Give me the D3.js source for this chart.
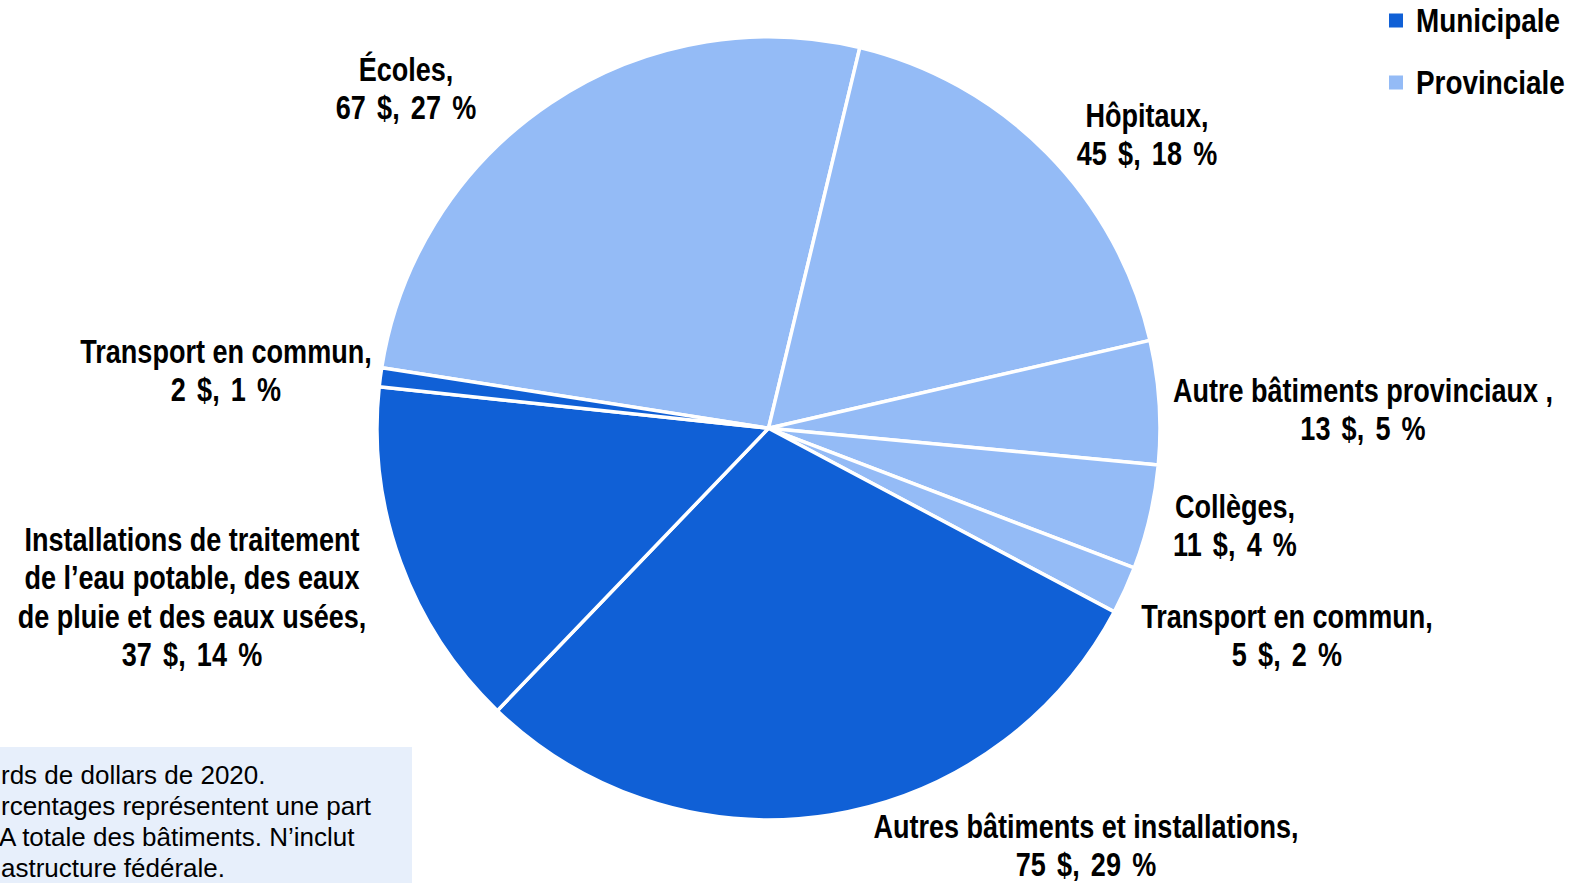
<!DOCTYPE html>
<html>
<head>
<meta charset="utf-8">
<script src="https://cdn.jsdelivr.net/npm/d3@7"></script>
<style>
  html, body { margin: 0; padding: 0; background: #fff; }
  svg { display: block; }
  .lbl { font-family: "Liberation Sans", Arial, sans-serif; font-weight: bold; font-size: 33px; fill: #000; }
  .leg { font-family: "Liberation Sans", Arial, sans-serif; font-weight: bold; font-size: 34px; fill: #000; }
  .note { font-family: "Liberation Sans", Arial, sans-serif; font-size: 26px; fill: #000; }
</style>
</head>
<body>
<svg id="chart" width="1575" height="883"></svg>
<script>
// ---- data ----
const categories = [
  "Écoles",
  "Hôpitaux",
  "Autre bâtiments provinciaux ",
  "Collèges",
  "Transport en commun",
  "Autres bâtiments et installations",
  "Installations de traitement de l’eau potable, des eaux de pluie et des eaux usées",
  "Transport en commun"
];
const values = [67, 45, 13, 11, 5, 75, 37, 2];
const percents = [27, 18, 5, 4, 2, 29, 14, 1];
const levels = ["Provinciale", "Provinciale", "Provinciale", "Provinciale", "Provinciale", "Municipale", "Municipale", "Municipale"];
const legendLabels = ["Municipale", "Provinciale"];
const nameLines = [
  ["Écoles,"],
  ["Hôpitaux,"],
  ["Autre bâtiments provinciaux ,"],
  ["Collèges,"],
  ["Transport en commun,"],
  ["Autres bâtiments et installations,"],
  ["Installations de traitement", "de l’eau potable, des eaux", "de pluie et des eaux usées,"],
  ["Transport en commun,"]
];
const noteLines = [
  "rds de dollars de 2020.",
  "rcentages représentent une part",
  "A totale des bâtiments. N’inclut",
  "astructure fédérale."
];

// ---- layout (positions/styles) ----
const cx = 768.5, cy = 428.3, R = 391.5;
const startDeg = -81.1;
const labelPos = [
  [406, 81], [1147, 127], [1363, 402], [1235, 518],
  [1287, 628], [1086, 838], [192, 551], [226, 363]
];
const lineH = 38.3;
const narrow = 0.82;

const svg = d3.select("#chart");
const color = d3.scaleOrdinal().domain(legendLabels).range(["#1060d6", "#94bbf6"]);

const data = categories.map((c, i) => ({
  cat: c, value: values[i], pct: percents[i], level: levels[i],
  lines: nameLines[i], pos: labelPos[i]
}));

const pie = d3.pie().sort(null).value(d => d.value)
  .startAngle(startDeg * Math.PI / 180)
  .endAngle(startDeg * Math.PI / 180 + 2 * Math.PI);
const arc = d3.arc().innerRadius(0).outerRadius(R);

const g = svg.append("g").attr("transform", `translate(${cx},${cy})`);
g.selectAll("path").data(pie(data)).join("path")
  .attr("d", arc)
  .attr("fill", d => color(d.data.level))
  .attr("stroke", "#fff")
  .attr("stroke-width", 3.5)
  .attr("stroke-linejoin", "round");

// labels
const lg = svg.append("g");
data.forEach(d => {
  const t = lg.append("text").attr("class", "lbl").attr("text-anchor", "middle")
    .attr("transform", `translate(${d.pos[0]},0) scale(${narrow},1)`);
  d.lines.forEach((ln, k) => {
    t.append("tspan").attr("x", 0).attr("y", d.pos[1] + k * lineH).text(ln);
  });
  t.append("tspan").attr("x", 0).attr("y", d.pos[1] + d.lines.length * lineH)
    .attr("word-spacing", 4.5)
    .text(`${d.value} $, ${d.pct} %`);
});

// legend
const leg = svg.append("g");
legendLabels.forEach((name, i) => {
  const y = 20.5 + i * 62;
  leg.append("rect").attr("x", 1389).attr("y", y - 7).attr("width", 14).attr("height", 14).attr("fill", color(name));
  leg.append("text").attr("class", "leg")
    .attr("transform", `translate(1416,${y + 11.5}) scale(${narrow},1)`)
    .attr("x", 0).attr("y", 0).text(name);
});

// note box
svg.append("rect").attr("x", 0).attr("y", 747).attr("width", 412).attr("height", 140).attr("fill", "#e7effb");
noteLines.forEach((ln, i) => {
  svg.append("text").attr("class", "note").attr("x", i === 2 ? -1 : 1).attr("y", 783.5 + i * 31.3).text(ln);
});
</script>
</body>
</html>
